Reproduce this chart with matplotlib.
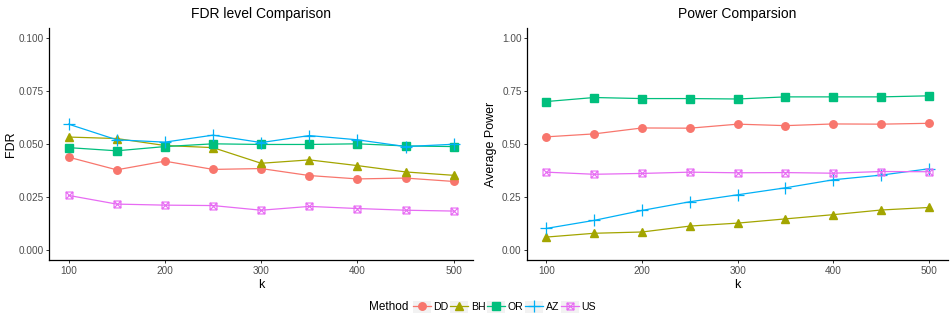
import numpy as np
import matplotlib
matplotlib.use("Agg")
import matplotlib.pyplot as plt
from matplotlib.path import Path
from matplotlib.patches import Rectangle
from matplotlib.legend_handler import HandlerTuple
from matplotlib.lines import Line2D

plt.rcParams['font.family'] = ['Liberation Sans', 'DejaVu Sans']

# data
k = [100, 150, 200, 250, 300, 350, 400, 450, 500]
methods = ["DD", "BH", "OR", "AZ", "US"]

fdr_dd = [0.0438, 0.0378, 0.0419, 0.0380, 0.0384, 0.0351, 0.0335, 0.0339, 0.0323]
fdr_bh = [0.0533, 0.0526, 0.0493, 0.0483, 0.0409, 0.0425, 0.0398, 0.0368, 0.0352]
fdr_or = [0.0483, 0.0468, 0.0488, 0.0501, 0.0498, 0.0498, 0.0501, 0.0491, 0.0488]
fdr_az = [0.0594, 0.0520, 0.0509, 0.0542, 0.0507, 0.0540, 0.0520, 0.0488, 0.0499]
fdr_us = [0.0257, 0.0216, 0.0211, 0.0209, 0.0187, 0.0205, 0.0195, 0.0187, 0.0183]

pow_dd = [0.534, 0.548, 0.576, 0.575, 0.594, 0.587, 0.595, 0.594, 0.598]
pow_bh = [0.060, 0.078, 0.084, 0.112, 0.126, 0.146, 0.166, 0.188, 0.200]
pow_or = [0.701, 0.720, 0.715, 0.715, 0.713, 0.723, 0.723, 0.723, 0.728]
pow_az = [0.101, 0.139, 0.186, 0.227, 0.260, 0.293, 0.331, 0.353, 0.383]
pow_us = [0.367, 0.357, 0.361, 0.367, 0.364, 0.365, 0.362, 0.370, 0.369]

colors = ["#F8766D", "#A3A500", "#00BF7D", "#00B0F6", "#E76BF3"]

# square with a cross (ggplot shape 7)
sqx = Path([(-1, -1), (1, -1), (1, 1), (-1, 1), (-1, -1),
            (-1, -1), (1, 1), (-1, 1), (1, -1)],
           [Path.MOVETO, Path.LINETO, Path.LINETO, Path.LINETO, Path.CLOSEPOLY,
            Path.MOVETO, Path.LINETO, Path.MOVETO, Path.LINETO])

styles = {
    "DD": dict(marker="o", ms=5.4),
    "BH": dict(marker="^", ms=6.2),
    "OR": dict(marker="s", ms=5.2),
    "AZ": dict(marker="+", ms=8, mew=0.9),
    "US": dict(marker=sqx, ms=5, mfc="none", mew=0.8),
}

fig = plt.figure(figsize=(9.5, 3.21), dpi=100)
ax1 = fig.add_axes([0.0519, 0.189, 0.446, 0.7246])
ax2 = fig.add_axes([0.555, 0.189, 0.443, 0.7246])


def draw(ax, series, ylim, yticks, yfmt, title, ylabel, lpad):
    for m, c, vals in zip(methods, colors, series):
        st = dict(styles[m])
        if "mfc" not in st:
            st["mfc"] = c
        ax.plot(k, vals, color=c, lw=0.9, mec=c, **st)
    ax.set_xlim(80, 520)
    ax.set_ylim(*ylim)
    ax.set_xticks([100, 200, 300, 400, 500])
    ax.set_yticks(yticks)
    ax.set_yticklabels([yfmt.format(v) for v in yticks])
    for s in ["top", "right"]:
        ax.spines[s].set_visible(False)
    for s in ["left", "bottom"]:
        ax.spines[s].set_linewidth(0.9)
        ax.spines[s].set_color("black")
    ax.tick_params(length=2.5, width=0.7, color="#333333", labelsize=7.2,
                   labelcolor="#4D4D4D", pad=1.5)
    ax.set_title(title, fontsize=10, pad=7)
    ax.set_xlabel("k", fontsize=9, labelpad=2)
    ax.set_ylabel(ylabel, fontsize=9, labelpad=lpad)


draw(ax1, [fdr_dd, fdr_bh, fdr_or, fdr_az, fdr_us], (-0.005, 0.105),
     [0.0, 0.025, 0.05, 0.075, 0.1], "{:.3f}", "FDR level Comparison", "FDR", 0)
draw(ax2, [pow_dd, pow_bh, pow_or, pow_az, pow_us], (-0.05, 1.05),
     [0.0, 0.25, 0.5, 0.75, 1.0], "{:.2f}", "Power Comparsion", "Average Power", 4)
ax1.yaxis.set_label_coords(-0.077, 0.5)

# legend
handles = []
for m, c in zip(methods, colors):
    st = dict(styles[m])
    if "mfc" not in st:
        st["mfc"] = c
    bg = Rectangle((0, 0), 1, 1, facecolor="#F2F2F2", edgecolor="none")
    ln = Line2D([], [], color=c, lw=0.9, mec=c, **st)
    handles.append((bg, ln))

fig.legend(handles, methods, handler_map={tuple: HandlerTuple(ndivide=1)},
           loc="center left", bbox_to_anchor=(413 / 950, 1 - 307 / 321),
           ncol=5, frameon=False, fontsize=7.6, handlelength=1.7, handleheight=1.5,
           handletextpad=0.25, columnspacing=0.15, borderpad=0, borderaxespad=0)
fig.text(369 / 950, 1 - 307 / 321, "Method", fontsize=8.5, va="center", ha="left")

fig.savefig("out.png", dpi=100)
